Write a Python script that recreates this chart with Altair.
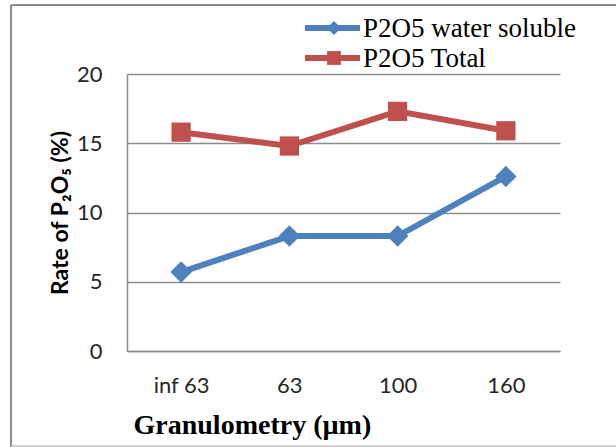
import altair as alt
import pandas as pd

categories = ["inf 63", "63", "100", "160"]
water_soluble = [5.7, 8.3, 8.3, 12.6]
total = [15.8, 14.8, 17.3, 15.9]
series_names = ["P2O5 water soluble", "P2O5 Total"]
series_colors = ["#4F81BD", "#C0504D"]
series_shapes = ["diamond", "square"]
y_ticks = [0, 5, 10, 15, 20]

rows = []
for name, vals in zip(series_names, [water_soluble, total]):
    for c, v in zip(categories, vals):
        rows.append({"granulometry": c, "rate": v, "series": name})
df = pd.DataFrame(rows)

W, H = 433, 277
PAD_L, PAD_T, PAD_R, PAD_B = 127, 74, 56, 96
GRID = "#8c8c8c"
SANS = "Lato, 'Noto Sans', sans-serif"
SERIF = "'Liberation Serif', 'Times New Roman', serif"

x_enc = alt.X(
    "granulometry:O",
    sort=categories,
    scale=alt.Scale(type="point", padding=0.5),
    axis=alt.Axis(
        title="Granulometry (µm)",
        titleFont=SERIF, titleFontSize=28, titleFontWeight="bold", titleColor="black",
        titleX=6, titleY=82, titleAlign="left", titleBaseline="alphabetic",
        labelFont=SANS, labelFontSize=22, labelColor="#262626", labelPadding=24,
        labelAngle=0, ticks=False, grid=False,
        domainColor=GRID, domainWidth=1.5,
    ),
)
y_enc = alt.Y(
    "rate:Q",
    scale=alt.Scale(domain=[0, 20], nice=False),
    axis=alt.Axis(
        title="Rate of P₂O₅ (%)",
        titleFont=SANS, titleFontSize=23, titleFontWeight="bold", titleColor="black",
        titleAngle=-90, titleX=-60, titleY=H / 2, titleAlign="center",
        titleBaseline="alphabetic",
        values=y_ticks, labelFont=SANS, labelFontSize=22, labelColor="#262626",
        labelPadding=25, ticks=False,
        grid=True, gridColor=GRID, gridWidth=1.5,
        domainColor=GRID, domainWidth=1.5,
    ),
)
color_enc = alt.Color("series:N", scale=alt.Scale(domain=series_names, range=series_colors), legend=None)

base = alt.Chart(df).encode(x=x_enc, y=y_enc, color=color_enc)
layers = [base.mark_line(strokeWidth=6)]
for name, shape, size in zip(series_names, series_shapes, [460, 370]):
    layers.append(
        base.transform_filter(alt.datum.series == name).mark_point(
            filled=True, opacity=1, shape=shape, size=size
        )
    )

one = pd.DataFrame({"k": [0]})
# legend
for i, (name, col, shape) in enumerate(zip(series_names, series_colors, series_shapes)):
    ly = -46 + 30 * i
    layers.append(alt.Chart(one).mark_rule(color=col, strokeWidth=6).encode(
        x=alt.value(178), x2=alt.value(233), y=alt.value(ly)))
    layers.append(alt.Chart(one).mark_point(filled=True, opacity=1, color=col, shape=shape,
                                            size=200 if shape == "diamond" else 190).encode(
        x=alt.value(207), y=alt.value(ly)))
    layers.append(alt.Chart(one).mark_text(font=SERIF, fontSize=27, align="left",
                                           baseline="alphabetic", color="black").encode(
        x=alt.value(236), y=alt.value(ly + 9), text=alt.value(name)))

# outer frame
layers.append(alt.Chart(one).mark_rule(color="#8c8c8c", strokeWidth=2).encode(
    x=alt.value(-116), x2=alt.value(489), y=alt.value(-69)))
layers.append(alt.Chart(one).mark_rule(color="#8c8c8c", strokeWidth=2).encode(
    x=alt.value(-116), y=alt.value(-69), y2=alt.value(373)))
layers.append(alt.Chart(one).mark_rule(color="#c0c0c0", strokeWidth=1.5).encode(
    x=alt.value(-116), x2=alt.value(489), y=alt.value(372)))

chart = alt.layer(*layers).properties(
    width=W, height=H,
    autosize=alt.AutoSizeParams(type="none"),
    padding={"left": PAD_L, "top": PAD_T, "right": PAD_R, "bottom": PAD_B},
    background="white",
).configure_view(stroke=None)

chart.save("out.html", embed_options={"renderer": "svg", "actions": False})
